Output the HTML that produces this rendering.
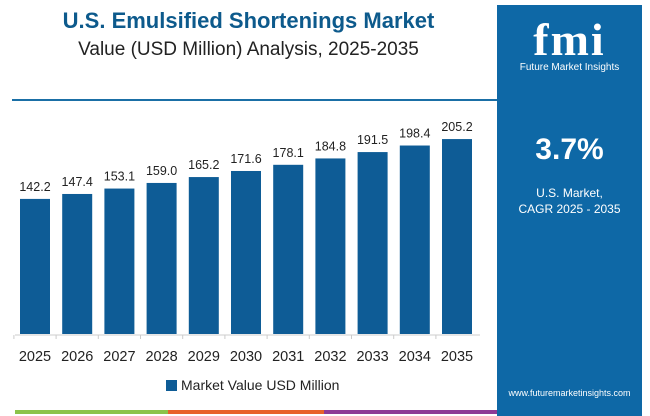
<!DOCTYPE html>
<html><head><style>
body{margin:0;width:650px;height:416px;background:#fff;font-family:"Liberation Sans",sans-serif;overflow:hidden;position:relative}
.abs{position:absolute}
</style></head><body>
<div class="abs" style="left:0;width:497px;top:8px;text-align:center;font-weight:bold;font-size:22px;color:#0d5a8c">U.S. Emulsified Shortenings Market</div>
<div class="abs" style="left:0;width:497px;top:39px;text-align:center;font-size:19px;color:#222">Value (USD Million) Analysis, 2025-2035</div>
<div class="abs" style="left:12px;top:99px;width:485px;height:2px;background:#1a6fa6"></div>
<div class="abs" style="left:497px;top:5px;width:145px;height:411px;background:#0e68a6;color:#fff;text-align:center">
 <div style="margin-top:8px;font-size:46px;font-weight:bold;font-family:'Liberation Serif',serif;letter-spacing:2px">fmi</div>
 <div style="font-size:10px;margin-top:-4px">Future Market Insights</div>
 <div style="margin-top:60px;font-size:30px;font-weight:bold">3.7%</div>
 <div style="margin-top:18px;font-size:12px;line-height:16px">U.S. Market,<br>CAGR 2025 - 2035</div>
 <div style="position:absolute;bottom:18px;width:100%;font-size:9px">www.futuremarketinsights.com</div>
</div>
<svg class="abs" style="left:0;top:0" width="497" height="416">
<g id="bars"></g>
</svg>
<div class="abs" style="left:166px;top:377px;font-size:14px;color:#222"><span style="display:inline-block;width:11px;height:11px;background:#0e5c96;vertical-align:-1px;margin-right:4px"></span>Market Value USD Million</div>
<div class="abs" style="left:15px;top:410px;width:153px;height:4px;background:#8bc34a"></div>
<div class="abs" style="left:168px;top:410px;width:156px;height:4px;background:#e8622a"></div>
<div class="abs" style="left:324px;top:410px;width:173px;height:4px;background:#8e3a96"></div>
<script>
const categories=["2025","2026","2027","2028","2029","2030","2031","2032","2033","2034","2035"];
const values=[142.2,147.4,153.1,159.0,165.2,171.6,178.1,184.8,191.5,198.4,205.2];
const labels=["142.2","147.4","153.1","159.0","165.2","171.6","178.1","184.8","191.5","198.4","205.2"];
const NS="http://www.w3.org/2000/svg";
const g=document.getElementById('bars');
const base=334,scale=0.95,x0=35,step=42.2,bw=30;
const xs=i=>x0+i*step, ys=v=>base-v*scale;
function mk(t,a){const e=document.createElementNS(NS,t);for(const k in a)e.setAttribute(k,a[k]);g.appendChild(e);return e;}
const ax=mk('line',{x1:15,x2:480,y1:base+1,y2:base+1,stroke:'#ccc'});


categories.forEach((c,i)=>{
 const r=mk('rect',{x:xs(i)-bw/2,y:ys(values[i]),width:bw,height:base-ys(values[i]),fill:'#0e5c96'});
 
 
 const t=mk('line',{x1:xs(i)-step/2,x2:xs(i)-step/2,y1:base+1,y2:base+5,stroke:'#ccc'});
 
 
 const l=mk('text',{x:xs(i),y:ys(values[i])-8,'text-anchor':'middle','font-size':12.5,fill:'#222'});
 l.textContent=labels[i];
 
 
 const tl=mk('text',{x:xs(i),y:base+27,'text-anchor':'middle','font-size':14.5,fill:'#222'});
 tl.textContent=c;
 
 
});
</script>
</body></html>
